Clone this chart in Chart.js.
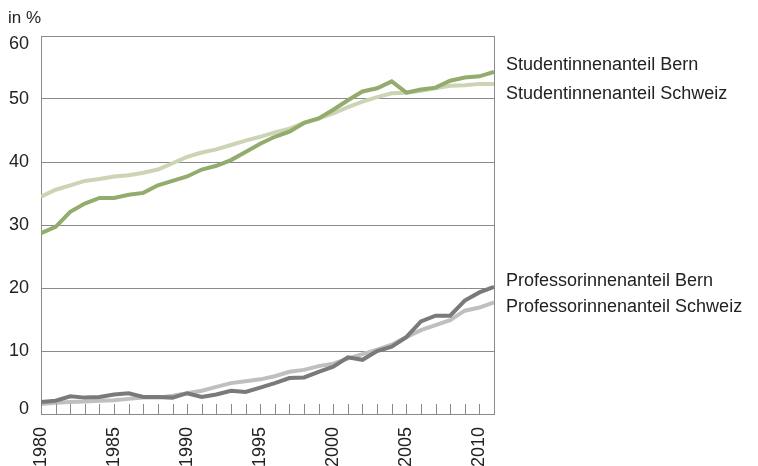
<!DOCTYPE html>
<html>
<head>
<meta charset="utf-8">
<script src="https://cdn.jsdelivr.net/npm/chart.js@4/dist/chart.umd.min.js"></script>
<style>
  html, body { margin: 0; padding: 0; background: #fff; }
  #wrap { width: 758px; height: 466px; }
</style>
</head>
<body>
<div id="wrap"><canvas id="lineChart" width="758" height="466"></canvas></div>
<script>
// Jahre 1980-2011
const jahre = [1980, 1981, 1982, 1983, 1984, 1985, 1986, 1987, 1988, 1989,
               1990, 1991, 1992, 1993, 1994, 1995, 1996, 1997, 1998, 1999,
               2000, 2001, 2002, 2003, 2004, 2005, 2006, 2007, 2008, 2009,
               2010, 2011];

// Werte in %
const studBern = [28.7, 29.7, 32.1, 33.4, 34.3, 34.3, 34.8, 35.1, 36.3, 37.0,
                  37.7, 38.8, 39.4, 40.3, 41.6, 42.9, 44.0, 44.8, 46.2, 46.9,
                  48.3, 49.8, 51.2, 51.7, 52.8, 51.0, 51.5, 51.8, 52.9, 53.4,
                  53.6, 54.3];
const studSchweiz = [34.5, 35.6, 36.3, 37.0, 37.3, 37.7, 37.9, 38.3, 38.8, 39.8,
                     40.8, 41.5, 42.0, 42.7, 43.4, 44.0, 44.7, 45.3, 46.2, 46.9,
                     47.7, 48.7, 49.6, 50.3, 50.9, 51.0, 51.3, 51.7, 52.1, 52.2,
                     52.4, 52.4];
const profBern = [1.9, 2.1, 2.8, 2.6, 2.7, 3.1, 3.3, 2.7, 2.7, 2.6,
                  3.3, 2.7, 3.1, 3.7, 3.5, 4.2, 4.9, 5.7, 5.8, 6.7,
                  7.5, 9.0, 8.6, 10.0, 10.7, 12.2, 14.7, 15.6, 15.6, 18.0,
                  19.3, 20.2];
const profSchweiz = [1.6, 1.8, 1.9, 2.0, 2.1, 2.2, 2.4, 2.6, 2.6, 2.9,
                     3.3, 3.7, 4.3, 4.9, 5.2, 5.5, 6.0, 6.7, 7.0, 7.6,
                     8.0, 8.8, 9.5, 10.2, 11.0, 12.2, 13.3, 14.1, 14.9, 16.4,
                     16.9, 17.7];

const yTicks = [0, 10, 20, 30, 40, 50, 60];

const schrift = "'Liberation Sans', Arial, sans-serif";
const textFarbe = '#222';
const gitterFarbe = '#8a8a8a';

function punkte(werte) {
    return jahre.map((j, i) => ({ x: j, y: werte[i] }));
}

// Beschriftungen rechts, y-Beschriftung, Tick-Striche innen, Rahmen rechts, "in %"
const extras = {
    id: 'extras',
    afterDatasetsDraw(chart) {
        const ctx = chart.ctx;
        const area = chart.chartArea;
        const xs = chart.scales.x;
        const ys = chart.scales.y;
        ctx.save();
        ctx.strokeStyle = gitterFarbe;
        ctx.lineWidth = 1;
        // rechter Rand
        ctx.beginPath();
        ctx.moveTo(area.right + 0.5, area.top);
        ctx.lineTo(area.right + 0.5, area.bottom);
        ctx.stroke();
        // Striche pro Jahr nach innen
        jahre.forEach(j => {
            const px = Math.round(xs.getPixelForValue(j)) + 0.5;
            ctx.beginPath();
            ctx.moveTo(px, area.bottom);
            ctx.lineTo(px, area.bottom - 10);
            ctx.stroke();
        });
        ctx.fillStyle = textFarbe;
        ctx.textBaseline = 'middle';
        // y-Achse: Werte, oben und unten in die Fläche geschoben
        ctx.font = '18px ' + schrift;
        ctx.textAlign = 'right';
        yTicks.forEach(v => {
            let py = ys.getPixelForValue(v);
            py = Math.min(Math.max(py, area.top + 8), area.bottom - 5);
            ctx.fillText(String(v), area.left - 12, py);
        });
        // Serienbeschriftungen
        ctx.textAlign = 'left';
        chart.data.datasets.forEach(ds => {
            const last = ds.data[ds.data.length - 1];
            const py = ys.getPixelForValue(last.y) + ds.labelOffset;
            ctx.fillText(ds.label, area.right + 12, py);
        });
        // Einheit
        ctx.font = '17px ' + schrift;
        ctx.fillText('in %', 8, 18);
        ctx.restore();
    }
};

document.addEventListener("DOMContentLoaded", function() {
    const ctx = document.getElementById('lineChart').getContext('2d');
    new Chart(ctx, {
        type: 'line',
        data: {
            datasets: [
                { label: 'Studentinnenanteil Bern', data: punkte(studBern), borderColor: '#93ab6c', order: 1, labelOffset: -7 },
                { label: 'Studentinnenanteil Schweiz', data: punkte(studSchweiz), borderColor: '#cbd5b4', order: 2, labelOffset: 10 },
                { label: 'Professorinnenanteil Bern', data: punkte(profBern), borderColor: '#7a7a7a', order: 1, labelOffset: -6 },
                { label: 'Professorinnenanteil Schweiz', data: punkte(profSchweiz), borderColor: '#bfbfbf', order: 2, labelOffset: 5 }
            ]
        },
        options: {
            responsive: false,
            animation: false,
            layout: { padding: { top: 36, right: 264, left: 0, bottom: 0 } },
            elements: {
                line: { borderWidth: 4, tension: 0, borderJoinStyle: 'miter' },
                point: { radius: 0 }
            },
            plugins: { legend: { display: false }, tooltip: { enabled: false } },
            scales: {
                x: {
                    type: 'linear',
                    min: jahre[0],
                    max: jahre[jahre.length - 1],
                    afterBuildTicks: s => { s.ticks = jahre.filter(j => j % 5 === 0).map(j => ({ value: j })); },
                    afterFit: s => { s.height = 52; },
                    grid: { display: false },
                    border: { display: true, color: gitterFarbe, width: 1 },
                    ticks: {
                        minRotation: 90,
                        maxRotation: 90,
                        padding: 5,
                        color: textFarbe,
                        font: { family: schrift, size: 18 },
                        callback: v => String(v)
                    }
                },
                y: {
                    min: 0,
                    max: 60,
                    afterBuildTicks: s => { s.ticks = yTicks.map(v => ({ value: v })); },
                    afterFit: s => { s.width = 41; },
                    grid: { color: gitterFarbe, lineWidth: 1, drawTicks: false },
                    border: { display: true, color: gitterFarbe, width: 1 },
                    ticks: { display: false }
                }
            }
        },
        plugins: [extras]
    });
});
</script>
</body>
</html>
